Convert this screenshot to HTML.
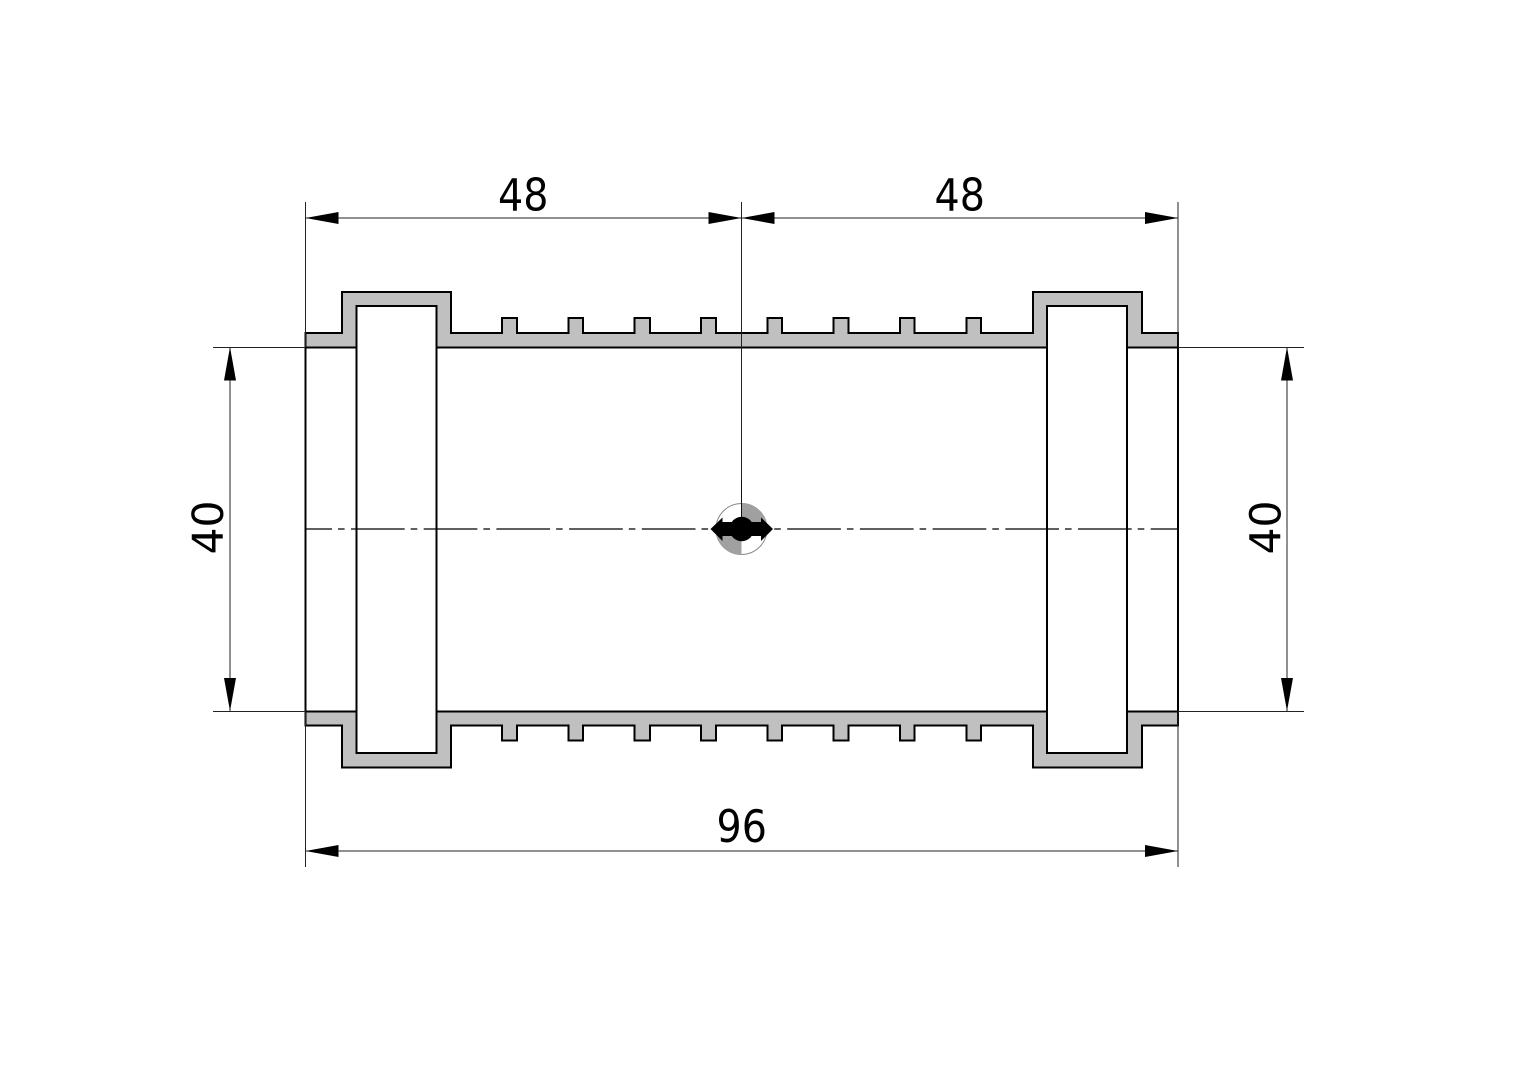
<!DOCTYPE html>
<html>
<head>
<meta charset="utf-8">
<style>
html,body{margin:0;padding:0;background:#fff;}
svg{display:block;}
text{font-family:"DejaVu Sans",sans-serif;font-size:44.5px;fill:#000;}
text.v{font-size:42.5px;}
</style>
</head>
<body>
<svg width="1528" height="1080" viewBox="0 0 1528 1080" xmlns="http://www.w3.org/2000/svg">
<rect width="1528" height="1080" fill="#fff"/>

<!-- walls -->
<path fill="#c0c0c0" stroke="#000" stroke-width="2" stroke-linejoin="miter" d="M305.500 347.500V333H342V292H451V333H502V318H517V333H568.500V318H583V333H634.500V318H650V333H701V318H716V333H767.500V318H782V333H833.500V318H848.500V333H900V318H914.500V333H966.500V318H981V333H1033V292H1142V333H1178V347.500H1127V306H1047V347.500H436.500V306H356.500V347.500Z"/>
<path fill="#c0c0c0" stroke="#000" stroke-width="2" stroke-linejoin="miter" d="M305.500 711.500V725.500H342V767.500H451V725.500H502V740.500H517V725.500H568.500V740.500H583V725.500H634.500V740.500H650V725.500H701V740.500H716V725.500H767.500V740.500H782V725.500H833.500V740.500H848.500V725.500H900V740.500H914.500V725.500H966.500V740.500H981V725.500H1033V767.500H1142V725.500H1178V711.500H1127V753H1047V711.500H436.500V753H356.500V711.500Z"/>

<!-- body verticals -->
<g stroke="#000" stroke-width="2" fill="none">
<path d="M305.500 347V711"/>
<path d="M356.500 347V711"/>
<path d="M436.500 347V711"/>
<path d="M1047 347V711"/>
<path d="M1127 347V711"/>
<path d="M1178 347V711"/>
</g>

<!-- extension and dimension lines -->
<g stroke="#222" stroke-width="1" fill="none">
<path d="M305.500 202V347"/>
<path d="M1178 202V347"/>
<path d="M741.500 202V529"/>
<path d="M305.500 711V867"/>
<path d="M1178 711V867"/>
<path d="M213 347.500H305"/>
<path d="M213 711.500H305"/>
<path d="M1178 347.500H1304"/>
<path d="M1178 711.500H1304"/>
<path d="M305 218H1178"/>
<path d="M305 851H1178"/>
<path d="M230 347V711"/>
<path d="M1287 347V711"/>
</g>

<!-- centre line -->
<path d="M305 529H1178" stroke="#000" stroke-width="1.200" fill="none" stroke-dasharray="53.7 6 6.6 6.4" stroke-dashoffset="26.700"/>

<!-- arrowheads -->
<g fill="#000">
<path d="M305.500 218L338.500 212V224Z"/>
<path d="M741.500 218L708.500 212V224Z"/>
<path d="M741.500 218L774.500 212V224Z"/>
<path d="M1178 218L1145 212V224Z"/>
<path d="M305.500 851L338.500 845V857Z"/>
<path d="M1178 851L1145 845V857Z"/>
<path d="M230 347L224 380.500H236Z"/>
<path d="M230 711L224 678H236Z"/>
<path d="M1287 347L1281 380.500H1293Z"/>
<path d="M1287 711L1281 678H1293Z"/>
</g>

<!-- centre symbol -->
<circle cx="741.500" cy="529" r="25.500" fill="#fff" stroke="#888" stroke-width="1"/>
<path d="M741.500 529V503A26 26 0 0 1 767.500 529Z" fill="#a0a0a0"/>
<path d="M741.500 529V555A26 26 0 0 1 715.500 529Z" fill="#a0a0a0"/>
<path d="M741.500 480V529" stroke="#111" stroke-width="1" fill="none"/>
<path d="M710.500 529L722.500 517.500V522H761V517.500L773 529L761 541V536H722.500V541Z" fill="#000"/>
<circle cx="741.700" cy="529" r="12.200" fill="#000"/>

<!-- labels -->
<text transform="translate(498 210.500) scale(0.89 1)">48</text>
<text transform="translate(934.500 210.500) scale(0.89 1)">48</text>
<text transform="translate(716.500 842) scale(0.89 1)">96</text>
<text class="v" transform="translate(223 554.500) rotate(-90)">40</text>
<text class="v" transform="translate(1280.500 554.500) rotate(-90)">40</text>
</svg>
</body>
</html>
